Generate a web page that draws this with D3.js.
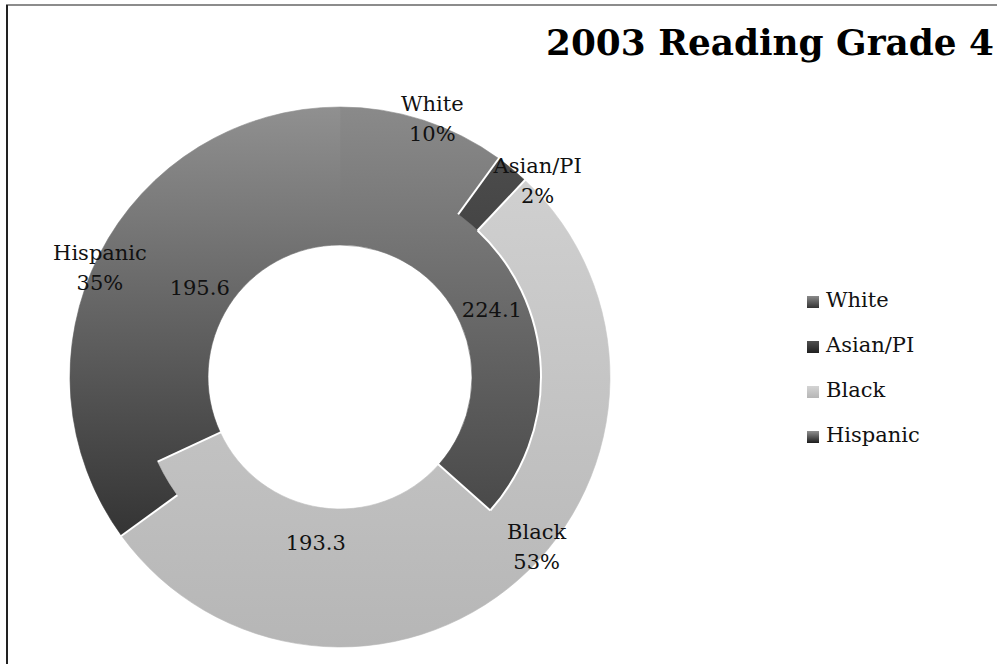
<!DOCTYPE html>
<html><head><meta charset="utf-8">
<script src="https://cdn.jsdelivr.net/npm/d3@7"></script>
<style>body{margin:0;background:#fff}svg{display:block}</style>
</head><body>
<svg id="chart" width="997" height="664"></svg>
<script>
// ---- data ----
const chartTitle = "2003 Reading Grade 4";
const categories = ["White", "Asian/PI", "Black", "Hispanic"];
const sharePercent = [10, 2, 53, 35];              // outer ring (share of students)
const readingScores = [224.1, null, 193.3, 195.6]; // inner ring (scale scores)

// ---- layout / style ----
const W = 997, H = 664;
const cx = 340, cy = 377, rHole = 132, rMid = 201, rOuter = 270;
const shadeTop = ["#8a8a8a", "#505050", "#d4d4d4", "#909090"];
const shadeBottom = ["#333333", "#202020", "#b6b6b6", "#1c1c1c"];
const outerLabelNudge = { "White": [1.6, 6], "Asian/PI": [5.5, 10], "Black": [-8, -10], "Hispanic": [-2.4, -5] };
const serif = "'DejaVu Serif', 'Liberation Serif', serif";

const svg = d3.select("#chart");
const defs = svg.append("defs");
categories.forEach((c, i) => {
  const g = defs.append("linearGradient").attr("id", "grad" + i)
    .attr("gradientUnits", "userSpaceOnUse")
    .attr("x1", 0).attr("y1", -rOuter).attr("x2", 0).attr("y2", rOuter);
  g.append("stop").attr("offset", "0%").attr("stop-color", shadeTop[i]);
  g.append("stop").attr("offset", "100%").attr("stop-color", shadeBottom[i]);
  const gl = defs.append("linearGradient").attr("id", "lgrad" + i)
    .attr("x1", 0).attr("y1", 0).attr("x2", 0).attr("y2", 1);
  gl.append("stop").attr("offset", "0%").attr("stop-color", shadeTop[i]);
  gl.append("stop").attr("offset", "100%").attr("stop-color", shadeBottom[i]);
});
const fillOf = d3.scaleOrdinal(categories, categories.map((c, i) => `url(#grad${i})`));
const legendFill = d3.scaleOrdinal(categories, categories.map((c, i) => `url(#lgrad${i})`));

// frame
svg.append("line").attr("x1", 6).attr("x2", W).attr("y1", 5).attr("y2", 5)
  .attr("stroke", "#666").attr("stroke-width", 1.5);
svg.append("line").attr("x1", 7).attr("x2", 7).attr("y1", 5).attr("y2", H)
  .attr("stroke", "#222").attr("stroke-width", 2);

// title
svg.append("text").attr("x", 546).attr("y", 55)
  .attr("font-family", serif).attr("font-weight", "bold").attr("font-size", 35)
  .attr("textLength", 448).attr("lengthAdjust", "spacingAndGlyphs")
  .attr("fill", "#000").text(chartTitle);

const pie = d3.pie().sort(null).value(d => d.v || 0);
const outerData = pie(categories.map((c, i) => ({ c, v: sharePercent[i] })));
const innerData = pie(categories.map((c, i) => ({ c, v: readingScores[i] })));

// outer arcs extend slightly under the inner ring to avoid a seam
const arcOuter = d3.arc().innerRadius(rMid - 3).outerRadius(rOuter);
const arcOuterTrue = d3.arc().innerRadius(rMid).outerRadius(rOuter);
const arcInner = d3.arc().innerRadius(rHole).outerRadius(rMid);

const g = svg.append("g").attr("transform", `translate(${cx},${cy})`);

g.append("g").selectAll("path").data(outerData).join("path")
  .attr("d", arcOuter).attr("fill", d => fillOf(d.data.c))
  .attr("stroke", d => fillOf(d.data.c)).attr("stroke-width", 0.6);
g.append("g").selectAll("path").data(innerData.filter(d => d.data.v)).join("path")
  .attr("d", arcInner).attr("fill", d => fillOf(d.data.c))
  .attr("stroke", d => fillOf(d.data.c)).attr("stroke-width", 0.6);

// thin white radial separators at segment boundaries (not at 12 o'clock)
const sep = g.append("g").attr("stroke", "#fff").attr("stroke-width", 2);
function radial(angle, r0, r1) {
  if (angle < 1e-6) return;
  sep.append("line")
    .attr("x1", r0 * Math.sin(angle)).attr("y1", -r0 * Math.cos(angle))
    .attr("x2", r1 * Math.sin(angle)).attr("y2", -r1 * Math.cos(angle));
}
outerData.forEach(d => radial(d.startAngle, rMid, rOuter + 1));
innerData.filter(d => d.data.v).forEach(d => radial(d.startAngle, rHole - 1, rMid));
// boundary between inner White segment and outer Black segment
const blackOuter = outerData.find(d => d.data.c === "Black");
const whiteInner = innerData.find(d => d.data.c === "White");
g.append("path").attr("fill", "none").attr("stroke", "#fff").attr("stroke-width", 2)
  .attr("d", d3.arc().innerRadius(rMid).outerRadius(rMid)
    .startAngle(blackOuter.startAngle).endAngle(whiteInner.endAngle)());

// inner labels (at centroid)
g.append("g").selectAll("text").data(innerData.filter(d => d.data.v)).join("text")
  .attr("x", d => arcInner.centroid(d)[0])
  .attr("y", d => arcInner.centroid(d)[1] + 8)
  .attr("text-anchor", "middle").attr("font-family", serif).attr("font-size", 21)
  .attr("fill", "#111").text(d => d3.format(".1f")(d.data.v));

// outer labels
const fmtPct = v => v + "%";
const outerLab = g.append("g").selectAll("g").data(outerData).join("g")
  .attr("transform", d => {
    const nud = outerLabelNudge[d.data.c] || [0, 0];
    const a = (d.startAngle + d.endAngle) / 2 + nud[0] * Math.PI / 180;
    const r = 269 + nud[1];
    return `translate(${r * Math.sin(a)},${-r * Math.cos(a)})`;
  });
outerLab.append("text").attr("y", -7).attr("text-anchor", "middle")
  .attr("font-family", serif).attr("font-size", 21).attr("fill", "#111")
  .text(d => d.data.c);
outerLab.append("text").attr("y", 23).attr("text-anchor", "middle")
  .attr("font-family", serif).attr("font-size", 21).attr("fill", "#111")
  .text(d => fmtPct(d.data.v));

// legend
const legend = svg.append("g").attr("transform", "translate(807,307)");
const li = legend.selectAll("g").data(categories).join("g")
  .attr("transform", (d, i) => `translate(0,${i * 45})`);
li.append("rect").attr("x", 0).attr("y", -11).attr("width", 12).attr("height", 12)
  .attr("fill", d => legendFill(d));
li.append("text").attr("x", 19).attr("y", 0)
  .attr("font-family", serif).attr("font-size", 21).attr("fill", "#111").text(d => d);
</script>
</body></html>
